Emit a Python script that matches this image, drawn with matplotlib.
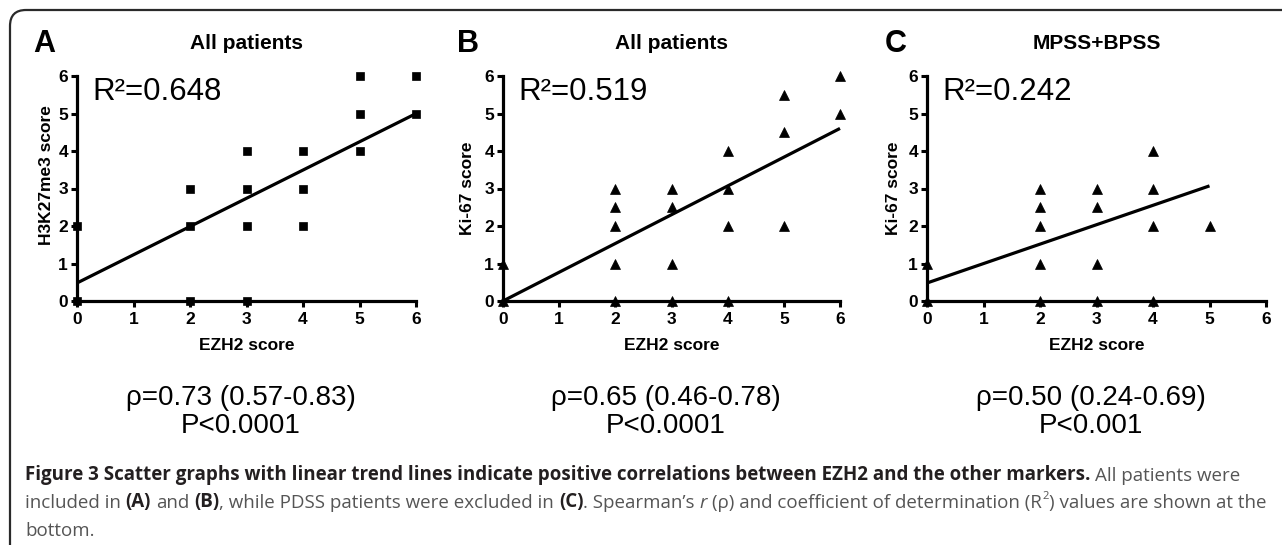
import matplotlib
matplotlib.use("Agg")
import matplotlib.pyplot as plt
from matplotlib.patches import FancyBboxPatch

# ---------------- data ----------------
panel_letters = ["A", "B", "C"]
panel_titles = ["All patients", "All patients", "MPSS+BPSS"]
y_labels = ["H3K27me3 score", "Ki-67 score", "Ki-67 score"]
x_label = "EZH2 score"
ticks = [0, 1, 2, 3, 4, 5, 6]

# Panel A: EZH2 vs H3K27me3 (squares)
ezh2_a = [0, 0, 2, 2, 2, 3, 3, 3, 3, 4, 4, 4, 5, 5, 5, 6, 6]
h3k27_a = [0, 2, 0, 2, 3, 0, 2, 3, 4, 2, 3, 4, 4, 5, 6, 5, 6]
# Panel B: EZH2 vs Ki-67, all patients (triangles)
ezh2_b = [0, 0, 2, 2, 2, 2, 2, 3, 3, 3, 3, 4, 4, 4, 4, 5, 5, 5, 6, 6]
ki67_b = [0, 1, 0, 1, 2, 2.5, 3, 0, 1, 2.5, 3, 0, 2, 3, 4, 2, 4.5, 5.5, 5, 6]
# Panel C: EZH2 vs Ki-67, MPSS+BPSS (triangles)
ezh2_c = [0, 0, 2, 2, 2, 2, 2, 3, 3, 3, 3, 4, 4, 4, 4, 5]
ki67_c = [0, 1, 0, 1, 2, 2.5, 3, 0, 1, 2.5, 3, 0, 2, 3, 4, 2]

# Linear trend lines: (x start, x end, intercept, slope)
trend_a = (0, 6, 0.48, 0.753)
trend_b = (0, 6, 0.0, 0.767)
trend_c = (0, 5, 0.48, 0.518)

r2_texts = ["R\u00b2=0.648", "R\u00b2=0.519", "R\u00b2=0.242"]
rho_texts = ["\u03c1=0.73 (0.57-0.83)", "\u03c1=0.65 (0.46-0.78)", "\u03c1=0.50 (0.24-0.69)"]
p_texts = ["P<0.0001", "P<0.0001", "P<0.001"]

# ---------------- layout ----------------
W, H = 1282, 545
fig = plt.figure(figsize=(W / 100, H / 100), dpi=100)
fig.patch.set_facecolor("white")


def fx(px):
    return px / W


def fy(py):
    return 1 - py / H


SANS = ["Liberation Sans", "DejaVu Sans"]
CAP = ["Open Sans", "DejaVu Sans"]

# rounded frame (only left and top edges visible)
frame = FancyBboxPatch((0.10, -1.0), 20, 6.35, boxstyle="round,pad=0,rounding_size=0.16",
                       transform=fig.dpi_scale_trans, fill=False, lw=1.6,
                       edgecolor="#2a2a2a", zorder=0)
fig.patches.append(frame)

axes_px = [(77, 76, 416, 301), (503, 76, 840, 301), (927, 76, 1266, 301)]
letter_px = [(44, 44), (468, 44), (896, 44)]
ylabel_px = [(47, 175), (467, 188), (894, 188)]

xs = [ezh2_a, ezh2_b, ezh2_c]
ys = [h3k27_a, ki67_b, ki67_c]
trends = [trend_a, trend_b, trend_c]
markers = ["s", "^", "^"]
msizes = [6.0, 6.5, 6.5]

for i in range(3):
    l, t, r, b = axes_px[i]
    ax = fig.add_axes([fx(l), fy(b), fx(r) - fx(l), fy(t) - fy(b)])
    ax.set_xlim(0, 6)
    ax.set_ylim(0, 6)
    for s in ["top", "right"]:
        ax.spines[s].set_visible(False)
    for s in ["left", "bottom"]:
        ax.spines[s].set_linewidth(2.3)
        ax.spines[s].set_color("black")
        ax.spines[s].set_capstyle("projecting")
    ax.set_xticks(ticks)
    ax.set_yticks(ticks)
    ax.tick_params(direction="out", length=4.5, width=2.2, pad=2.0, colors="black")
    ax.tick_params(axis="x", pad=3.5)
    for lab in ax.get_xticklabels() + ax.get_yticklabels():
        lab.set_fontfamily(SANS)
        lab.set_fontweight("bold")
        lab.set_fontsize(12.5)
    ax.patch.set_alpha(0)

    x0, x1, icpt, slope = trends[i]
    ax.plot([x0, x1], [icpt + slope * x0, icpt + slope * x1], color="black", lw=2.3,
            solid_capstyle="butt", zorder=3, clip_on=False)
    ax.plot(xs[i], ys[i], linestyle="none", marker=markers[i], ms=msizes[i],
            color="black", mec="black", mew=0.5, zorder=4, clip_on=False)

    ax.text(0.045, 0.995, r2_texts[i], transform=ax.transAxes, ha="left", va="top",
            fontsize=22.5, family=SANS, color="black")

    cx = (l + r) / 2
    fig.text(fx(cx), fy(43), panel_titles[i], ha="center", va="center",
             fontsize=15, fontweight="bold", family=SANS)
    fig.text(fx(letter_px[i][0]), fy(letter_px[i][1]), panel_letters[i], ha="center",
             va="center", fontsize=22, fontweight="bold", family=SANS)
    fig.text(fx(ylabel_px[i][0]), fy(ylabel_px[i][1]), y_labels[i], ha="center",
             va="center", rotation=90, fontsize=12.5, fontweight="bold", family=SANS)
    fig.text(fx(cx), fy(345), x_label, ha="center", va="center", fontsize=12.5,
             fontweight="bold", family=SANS)
    fig.text(fx(cx - 6), fy(398), rho_texts[i], ha="center", va="center",
             fontsize=20, family=SANS)
    fig.text(fx(cx - 6), fy(426), p_texts[i], ha="center", va="center",
             fontsize=20, family=SANS)

# ---------------- caption ----------------
CAP_SIZE = 13.5
DARK = "#231f20"
GRAY = "#555555"
SPACE_PT = CAP_SIZE * 0.26

caption_lines = [
    [("Figure 3 Scatter graphs with linear trend lines indicate positive correlations "
      "between EZH2 and the other markers.", "b", False),
     ("All patients were", "n", True)],
    [("included in", "n", False), ("(A)", "b", True), ("and", "n", True),
     ("(B)", "b", True), (", while PDSS patients were excluded in", "n", False),
     ("(C)", "b", True), (". Spearman\u2019s", "n", False), ("r", "i", True),
     ("(\u03c1) and coefficient of determination (R", "n", True), ("2", "s", False),
     (") values are shown at the", "n", False)],
    [("bottom.", "n", False)],
]
caption_baselines = [480, 508, 536]


def style_kw(st):
    if st == "b":
        return dict(fontweight="bold", color=DARK, fontsize=CAP_SIZE)
    if st == "i":
        return dict(fontstyle="italic", color=GRAY, fontsize=CAP_SIZE)
    if st == "s":
        return dict(color=GRAY, fontsize=CAP_SIZE * 0.6)
    return dict(color=GRAY, fontsize=CAP_SIZE)


for line, base in zip(caption_lines, caption_baselines):
    prev = None
    base_anchor = None
    for text, st, space in line:
        kw = style_kw(st)
        gap = SPACE_PT if space else 0.0
        if prev is None:
            prev = fig.text(fx(25), fy(base), text, ha="left", va="baseline",
                            family=CAP, **kw)
            base_anchor = prev
        elif st == "s":
            prev = plt.annotate(text, xy=(1, 0.55), xycoords=base_anchor,
                                xytext=(gap + 0.3, 0), textcoords="offset points",
                                ha="left", va="bottom", family=CAP,
                                annotation_clip=False, **kw)
        else:
            prev = plt.annotate(text, xy=(1, 0), xycoords=(prev, base_anchor),
                                xytext=(gap, 0), textcoords="offset points",
                                ha="left", va="bottom", family=CAP,
                                annotation_clip=False, **kw)
            base_anchor = prev

fig.savefig("out.png", dpi=100, facecolor="white")
